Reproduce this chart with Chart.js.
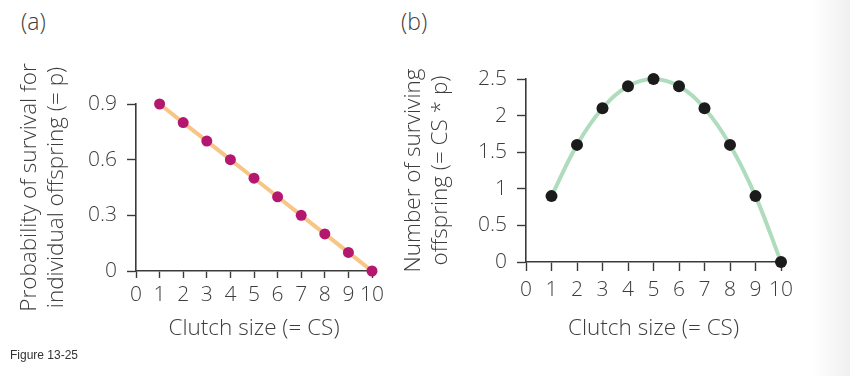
<!DOCTYPE html>
<html>
<head>
<meta charset="utf-8">
<script src="https://cdn.jsdelivr.net/npm/chart.js@4"></script>
<style>
    html, body {
        margin: 0;
        padding: 0;
        width: 850px;
        height: 376px;
        overflow: hidden;
        background: linear-gradient(to right, #ffffff 0px, #ffffff 812px, #f0f0f0 850px);
        font-family: 'Open Sans', sans-serif;
    }
    .panel {
        position: absolute;
        top: 0;
        height: 376px;
    }
    .letra {
        position: absolute;
        top: 5px;
        font-size: 23px;
        font-weight: 300;
        color: #3d3d3d;
    }
    .pie {
        position: absolute;
        left: 10px;
        top: 348px;
        font-family: 'Liberation Sans', Arial, sans-serif;
        font-size: 12px;
        color: #333;
    }
</style>
</head>
<body>
<div class="letra" style="left:21px">(a)</div>
<div class="letra" style="left:401px">(b)</div>
<div class="panel" style="left:0; width:400px"><canvas id="graficoA" width="400" height="376"></canvas></div>
<div class="panel" style="left:400px; width:450px"><canvas id="graficoB" width="450" height="376"></canvas></div>
<div class="pie">Figure 13-25</div>

<script>
// datos
const clutchSizes = [1, 2, 3, 4, 5, 6, 7, 8, 9, 10];
const survivalP = [0.9, 0.8, 0.7, 0.6, 0.5, 0.4, 0.3, 0.2, 0.1, 0];
const survivingOffspring = [0.9, 1.6, 2.1, 2.4, 2.5, 2.4, 2.1, 1.6, 0.9, 0];

const xTicks = [0, 1, 2, 3, 4, 5, 6, 7, 8, 9, 10];
const yTicksA = [0, 0.3, 0.6, 0.9];
const yTickLabelsA = ['0', '0.3', '0.6', '0.9'];
const yTicksB = [0, 0.5, 1, 1.5, 2, 2.5];
const yTickLabelsB = ['0', '0.5', '1', '1.5', '2', '2.5'];

const xTitle = 'Clutch size (= CS)';
const yTitleA = ['Probability of survival for', 'individual offspring (= p)'];
const yTitleB = ['Number of surviving', 'offspring (= CS * p)'];

const textColor = '#3d3d3d';
const axisColor = '#3a3a3a';
const fuente = { family: "'Open Sans', sans-serif", size: 22.5, weight: 300, lineHeight: 1.2 };
const fuenteTicks = { family: "'Open Sans', sans-serif", size: 21, weight: 300, lineHeight: 1.2 };

Chart.defaults.animation = false;

function crearGrafico(canvaId, cfg) {
    const graph = document.querySelector(canvaId);

    const data = {
        datasets: [{
            data: clutchSizes.map((cs, i) => ({ x: cs, y: cfg.valores[i] })),
            borderColor: cfg.colorLinea,
            borderWidth: 4,
            backgroundColor: cfg.colorPunto,
            pointBackgroundColor: cfg.colorPunto,
            pointBorderWidth: 0,
            pointRadius: cfg.radio,
            tension: cfg.tension,
            clip: false
        }]
    };

    const config = {
        type: 'line',
        data: data,
        options: {
            responsive: false,
            animation: false,
            events: [],
            layout: {
                padding: { top: cfg.top, right: cfg.right, left: 0, bottom: 0 }
            },
            plugins: {
                legend: { display: false },
                tooltip: { enabled: false }
            },
            scales: {
                x: {
                    type: 'linear',
                    min: 0,
                    max: 10,
                    afterBuildTicks: (s) => { s.ticks = xTicks.map(v => ({ value: v })); },
                    afterFit: (s) => { s.height = cfg.alturaX; },
                    border: { color: axisColor, width: 1.6 },
                    grid: {
                        drawOnChartArea: false,
                        tickLength: cfg.tickX,
                        tickColor: axisColor,
                        tickWidth: 1.4
                    },
                    ticks: {
                        autoSkip: false,
                        maxRotation: 0,
                        padding: cfg.padTickX,
                        color: textColor,
                        font: fuenteTicks
                    },
                    title: {
                        display: true,
                        text: xTitle,
                        color: textColor,
                        font: fuente,
                        padding: { top: 0, bottom: 34 }
                    }
                },
                y: {
                    min: 0,
                    max: cfg.maxY,
                    afterBuildTicks: (s) => { s.ticks = cfg.ticksY.map(v => ({ value: v })); },
                    afterFit: (s) => { s.width = cfg.anchoY; },
                    border: { color: axisColor, width: 1.6 },
                    grid: {
                        drawOnChartArea: false,
                        tickLength: 9,
                        tickColor: axisColor,
                        tickWidth: 1.4
                    },
                    ticks: {
                        padding: 10,
                        color: textColor,
                        font: fuenteTicks,
                        callback: (v) => cfg.etiquetasY[cfg.ticksY.indexOf(v)]
                    },
                    title: {
                        display: true,
                        text: cfg.tituloY,
                        color: textColor,
                        font: fuente,
                        padding: { top: cfg.padTituloY, bottom: 0 }
                    }
                }
            }
        }
    };

    return new Chart(graph, config);
}

// Panel (a)
crearGrafico('#graficoA', {
    valores: survivalP,
    colorLinea: '#f7c585',
    colorPunto: '#b3176f',
    radio: 5.5,
    tension: 0,
    top: 104,
    right: 28,
    alturaX: 105,
    tickX: 7,
    padTickX: 4,
    maxY: 0.9,
    ticksY: yTicksA,
    etiquetasY: yTickLabelsA,
    anchoY: 136,
    tituloY: yTitleA,
    padTituloY: 16
});

// Panel (b)
crearGrafico('#graficoB', {
    valores: survivingOffspring,
    colorLinea: '#aedcbc',
    colorPunto: '#1b1b1b',
    radio: 6,
    tension: 0.4,
    top: 79,
    right: 69,
    alturaX: 114,
    tickX: 9,
    padTickX: 6,
    maxY: 2.5,
    ticksY: yTicksB,
    etiquetasY: yTickLabelsB,
    anchoY: 126,
    tituloY: yTitleB,
    padTituloY: 0
});
</script>
</body>
</html>
